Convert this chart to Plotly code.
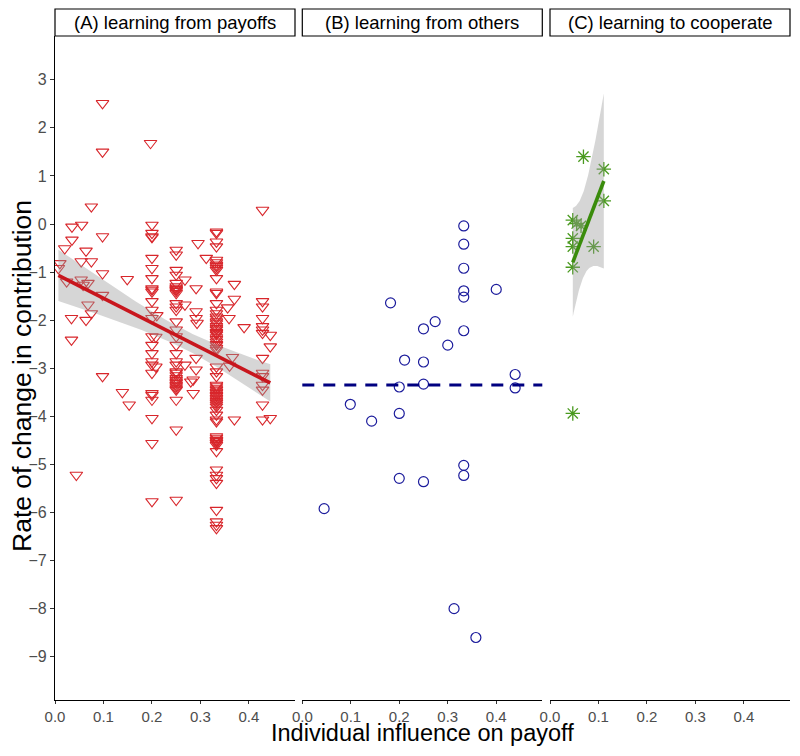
import numpy as np
import plotly.graph_objects as go

# ---------------- data ----------------
# Panel A: learning from payoffs
a_x = ([0.075, 0.035, 0.055, 0.098, 0.035, 0.020, 0.064, 0.010, 0.054, 0.075,
        0.007, 0.098, 0.149, 0.024, 0.054, 0.068, 0.058, 0.098, 0.068, 0.075,
        0.034, 0.064, 0.034, 0.098, 0.139, 0.153, 0.044, 0.098, 0.098, 0.197]
       + [0.2] * 25 + [0.21, 0.208, 0.208]
       + [0.25] * 35
       + [0.268, 0.268, 0.295, 0.291, 0.291, 0.291, 0.293, 0.268, 0.291, 0.291,
          0.285, 0.280, 0.285]
       + [0.333] * 71
       + [0.312, 0.37, 0.37, 0.356, 0.359, 0.39, 0.366, 0.36, 0.37]
       + [0.428] * 14 + [0.444, 0.444, 0.444])
a_y = ([0.36, -0.06, -0.02, -0.26, -0.33, -0.51, -0.56, -0.82, -0.78, -0.78,
        -0.92, -1.03, -1.15, -1.20, -1.16, -1.23, -1.27, -1.48, -1.68, -1.86,
        -1.96, -2.00, -2.41, -3.17, -3.50, -3.76, -5.22, 2.51, 1.50, 1.68]
       + [-0.02, -0.19, -0.26, -0.28, -0.71, -0.92, -1.13, -1.34, -1.37, -1.41,
          -1.61, -1.79, -1.96, -2.34, -2.52, -2.69, -2.86, -2.93, -3.10, -3.52,
          -3.56, -3.66, -4.04, -4.56, -5.77]
       + [-1.90, -2.35, -2.97]
       + [-0.54, -0.64, -0.96, -1.06, -1.23, -1.30, -1.33, -1.36, -1.37, -1.40,
          -1.44, -1.65, -1.72, -1.79, -2.03, -2.20, -2.34, -2.52, -2.69, -2.86,
          -2.93, -3.07, -3.10, -3.15, -3.21, -3.25, -3.28, -3.31, -3.35, -3.38,
          -3.42, -3.45, -3.66, -4.28, -5.74]
       + [-1.16, -1.68, -0.40, -1.34, -1.82, -1.96, -2.06, -2.93, -2.79, -3.03,
          -3.24, -3.28, -3.52]
       + [-0.16, -0.19, -0.37, -0.47, -0.75, -0.80, -0.85, -0.88, -0.92, -0.96,
          -1.13, -1.41, -1.44, -1.65, -1.79, -1.86, -1.93, -1.97, -2.03, -2.07,
          -2.13, -2.17, -2.20, -2.25, -2.27, -2.30, -2.36, -2.40, -2.45, -2.50,
          -2.52, -2.58, -2.62,
          -2.97, -3.07, -3.17, -3.35, -3.38, -3.42, -3.45, -3.49, -3.52, -3.56,
          -3.58, -3.62, -3.65, -3.69, -3.72, -3.76, -3.80, -3.87, -3.97, -4.07,
          -4.11, -4.42, -4.45, -4.49, -4.50, -4.52, -4.55, -4.56, -4.60, -4.73,
          -5.11, -5.22, -5.29, -5.39, -5.95, -6.19, -6.26, -6.33]
       + [-0.71, -1.25, -1.56, -1.74, -1.96, -2.15, -2.77, -2.95, -4.07]
       + [0.29, -1.61, -1.72, -1.96, -2.13, -2.20, -2.27, -2.79, -3.10, -3.17,
          -3.35, -3.45, -3.76, -4.07]
       + [-2.31, -2.55, -4.04])

# Panel B: learning from others
b_x = [0.333, 0.333, 0.333, 0.333, 0.333, 0.40, 0.182, 0.274, 0.25, 0.333,
       0.30, 0.211, 0.25, 0.439, 0.439, 0.20, 0.25, 0.099, 0.143, 0.20,
       0.333, 0.333, 0.20, 0.25, 0.045, 0.313, 0.358]
b_y = [-0.04, -0.42, -0.92, -1.39, -1.52, -1.36, -1.64, -2.03, -2.18, -2.22,
       -2.52, -2.83, -2.87, -3.13, -3.41, -3.39, -3.33, -3.75, -4.10, -3.94,
       -5.02, -5.23, -5.29, -5.36, -5.92, -8.00, -8.60]

# Panel C: learning to cooperate
c_x = [0.069, 0.111, 0.111, 0.047, 0.064, 0.055, 0.047, 0.047, 0.090, 0.047, 0.047]
c_y = [1.40, 1.14, 0.48, 0.08, -0.04, 0.01, -0.30, -0.47, -0.47, -0.90, -3.94]

panel_titles = ["(A) learning from payoffs", "(B) learning from others",
                "(C) learning to cooperate"]
x_ticks = [0.0, 0.1, 0.2, 0.3, 0.4]
y_ticks = list(range(-9, 4))


# ---------------- helpers ----------------
def t_quantile(df, z=1.959964):
    return (z + (z**3 + z) / (4 * df)
            + (5 * z**5 + 16 * z**3 + 3 * z) / (96 * df**2)
            + (3 * z**7 + 19 * z**5 + 17 * z**3 - 15 * z) / (384 * df**3))


def lm_band(x, y, n=80):
    x = np.asarray(x, float)
    y = np.asarray(y, float)
    b, a = np.polyfit(x, y, 1)
    res = y - (a + b * x)
    df = len(x) - 2
    s = np.sqrt(np.sum(res**2) / df)
    xm = x.mean()
    sxx = np.sum((x - xm) ** 2)
    xs = np.linspace(x.min(), x.max(), n)
    fit = a + b * xs
    se = s * np.sqrt(1 / len(x) + (xs - xm) ** 2 / sxx)
    t = t_quantile(df)
    return xs, fit, fit - t * se, fit + t * se


FONT = "Liberation Sans, Arial, Helvetica, sans-serif"
RIB = "rgba(153,153,153,0.4)"

fig = go.Figure()

# Panel A
fig.add_trace(go.Scatter(x=a_x, y=a_y, mode="markers", xaxis="x", yaxis="y",
                         marker=dict(symbol="triangle-down-open", size=11,
                                     color="#D8262B", line=dict(width=1.1)),
                         showlegend=False))
xs, fit, lo, hi = lm_band(a_x, a_y)
fig.add_trace(go.Scatter(x=np.concatenate([xs, xs[::-1]]),
                         y=np.concatenate([hi, lo[::-1]]), fill="toself",
                         fillcolor=RIB, line=dict(width=0), mode="lines",
                         xaxis="x", yaxis="y", showlegend=False, hoverinfo="skip"))
fig.add_trace(go.Scatter(x=xs, y=fit, mode="lines", xaxis="x", yaxis="y",
                         line=dict(color="#C8161D", width=3.6), showlegend=False))

# Panel B
fig.add_trace(go.Scatter(x=b_x, y=b_y, mode="markers", xaxis="x2", yaxis="y",
                         marker=dict(symbol="circle-open", size=10,
                                     color="#1C1C9C", line=dict(width=1.2)),
                         showlegend=False))
b_mean = float(np.mean(b_y))
fig.add_shape(type="line", xref="x2 domain", yref="y", x0=0, x1=1,
              y0=b_mean, y1=b_mean,
              line=dict(color="#000080", width=3, dash="12px,9px"))

# Panel C
fig.add_trace(go.Scatter(x=c_x, y=c_y, mode="markers", xaxis="x3", yaxis="y",
                         marker=dict(symbol="asterisk-open", size=12,
                                     color="#4A9A1F", line=dict(width=1.3, color="#4A9A1F")),
                         showlegend=False))
xs, fit, lo, hi = lm_band(c_x, c_y)
fig.add_trace(go.Scatter(x=np.concatenate([xs, xs[::-1]]),
                         y=np.concatenate([hi, lo[::-1]]), fill="toself",
                         fillcolor=RIB, line=dict(width=0), mode="lines",
                         xaxis="x3", yaxis="y", showlegend=False, hoverinfo="skip"))
fig.add_trace(go.Scatter(x=xs, y=fit, mode="lines", xaxis="x3", yaxis="y",
                         line=dict(color="#3A8C0C", width=3.6), showlegend=False))

# page has an 8px body margin: figure is sized/offset to fill the 800x756 window
OFF = 8
W, H = 800 - 2 * OFF, 756 - 2 * OFF
L, T = 55 - OFF, 36 - OFF
R = W - (790 - OFF)
B = H - (700 - OFF)
pw = W - L - R
plot_h = H - T - B
doms = [[0, 240 / pw], [247.3 / pw, 487.3 / pw], [495 / pw, 1.0]]


def px_to_paper_x(px):
    return (px - OFF - L) / pw


def px_to_paper_y(py):
    return (H - B - (py - OFF)) / plot_h


xaxis_common = dict(range=[0, 0.495], tickvals=x_ticks, tickformat=".1f",
                    showgrid=False, zeroline=False, showline=True,
                    linecolor="black", linewidth=1.3, ticks="outside",
                    ticklen=3, tickcolor="#333333", tickwidth=1.1,
                    tickfont=dict(family=FONT, size=15, color="#4D4D4D"))

layout = dict(
    width=W, height=H, paper_bgcolor="white", plot_bgcolor="white",
    margin=dict(l=L, r=R, t=T, b=B, autoexpand=False),
    yaxis=dict(range=[-9.9, 3.91], tickvals=y_ticks, showgrid=False,
               zeroline=False, showline=True, linecolor="black", linewidth=1.3,
               ticks="outside", ticklen=4, tickcolor="#333333", tickwidth=1.1,
               tickfont=dict(family=FONT, size=16, color="#4D4D4D"),
               anchor="x"),
)
for i, key in enumerate(["xaxis", "xaxis2", "xaxis3"]):
    d = dict(xaxis_common)
    d["domain"] = doms[i]
    d["anchor"] = "y"
    layout[key] = d
fig.update_layout(**layout)

strip_y0 = 1.0
strip_y1 = px_to_paper_y(9)
for i, (title, ref) in enumerate(zip(panel_titles, ["x", "x2", "x3"])):
    fig.add_shape(type="rect", xref=f"{ref} domain", yref="paper",
                  x0=0, x1=1, y0=strip_y0, y1=strip_y1,
                  line=dict(color="black", width=1.2), fillcolor="white")
    fig.add_annotation(xref=f"{ref} domain", yref="paper", x=0.5,
                       y=(strip_y0 + strip_y1) / 2, text=title, showarrow=False,
                       font=dict(family=FONT, size=18.5, color="black"),
                       xanchor="center", yanchor="middle")

fig.add_annotation(xref="paper", yref="paper", x=px_to_paper_x(422.5),
                   y=px_to_paper_y(733),
                   text="Individual influence on payoff", showarrow=False,
                   borderpad=0,
                   font=dict(family=FONT, size=23.5, color="black"),
                   xanchor="center", yanchor="middle")
fig.add_annotation(xref="paper", yref="paper", x=px_to_paper_x(22),
                   y=px_to_paper_y(376),
                   text="Rate of change in contribution", showarrow=False,
                   textangle=-90, borderpad=0,
                   font=dict(family=FONT, size=26.5, color="black"),
                   xanchor="center", yanchor="middle")

fig.write_html("out.html")
